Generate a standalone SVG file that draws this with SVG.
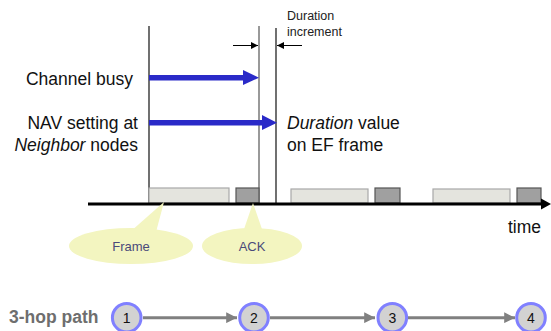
<svg xmlns="http://www.w3.org/2000/svg" width="551" height="331" viewBox="0 0 551 331">
  <defs>
    <style>
      .lbl { font-family: "Liberation Sans", Arial, sans-serif; font-size: 17.5px; fill: #111; }
      .small { font-family: "Liberation Sans", Arial, sans-serif; font-size: 12.5px; fill: #222; }
      .callout { fill: #f3f5c0; }
      .ctext { font-family: "Liberation Sans", Arial, sans-serif; font-size: 13px; fill: #4a4a7a; text-anchor: middle; }
      .frame { fill: #e4e4de; stroke: #a8a8a8; stroke-width: 1.2; }
      .ack { fill: #a0a0a0; stroke: #555; stroke-width: 1.2; }
      .node circle { fill: #d2d2d2; stroke: #8080ff; stroke-width: 3; }
      .node text { font-family: "Liberation Sans", Arial, sans-serif; font-size: 14px; fill: #111; text-anchor: middle; }
      .hop { stroke: #808080; stroke-width: 3; fill: none; marker-end: url(#grayHead); }
      .tick { stroke: #000; stroke-width: 1; marker-end: url(#smallHead); }
    </style>
    <marker id="grayHead" viewBox="0 0 10 10" refX="10" refY="5" markerWidth="3.6" markerHeight="3.6" markerUnits="strokeWidth" orient="auto">
      <path d="M0,0 L10,5 L0,10 Z" fill="#808080"/>
    </marker>
    <marker id="smallHead" viewBox="0 0 10 10" refX="10" refY="5" markerWidth="8" markerHeight="7" markerUnits="userSpaceOnUse" orient="auto">
      <path d="M0,0 L10,5 L0,10 Z" fill="#000"/>
    </marker>
  </defs>

  <rect width="551" height="331" fill="#fff"/>

  <!-- timing reference lines -->
  <line x1="149" y1="26" x2="149" y2="204" stroke="#111" stroke-width="1.2"/>
  <line x1="259" y1="26" x2="259" y2="204" stroke="#777" stroke-width="1.5"/>
  <line x1="276" y1="28" x2="276" y2="204" stroke="#111" stroke-width="1.2"/>

  <!-- duration increment marks -->
  <line class="tick" x1="233" y1="45.5" x2="258" y2="45.5"/>
  <line class="tick" x1="302" y1="45.5" x2="277" y2="45.5"/>
  <text class="small" x="287" y="20">Duration</text>
  <text class="small" x="287" y="36">increment</text>

  <!-- left labels -->
  <text class="lbl" x="133" y="85" text-anchor="end">Channel busy</text>
  <text class="lbl" x="138" y="129" text-anchor="end">NAV setting at</text>
  <text class="lbl" x="138" y="151" text-anchor="end"><tspan font-style="italic">Neighbor</tspan> nodes</text>

  <!-- right labels -->
  <text class="lbl" x="287" y="129"><tspan font-style="italic">Duration</tspan> value</text>
  <text class="lbl" x="287" y="151">on EF frame</text>

  <!-- blue interval arrows -->
  <path d="M149,75 L243,75 L243,70 L259,77.7 L243,85 L243,80.5 L149,80.5 Z" fill="#2a2ac8"/>
  <path d="M149,120 L262,120 L262,115 L277,122.7 L262,130 L262,125.5 L149,125.5 Z" fill="#2a2ac8"/>

  <!-- frames on the medium -->
  <rect class="frame" x="149" y="188" width="80" height="15"/>
  <rect class="ack" x="236" y="188" width="23" height="15"/>
  <rect class="frame" x="291" y="189" width="77" height="14"/>
  <rect class="ack" x="375" y="188" width="25" height="15"/>
  <rect class="frame" x="433" y="189" width="77" height="14"/>
  <rect class="ack" x="517" y="188" width="24" height="15"/>

  <!-- time axis -->
  <line x1="88" y1="204" x2="543" y2="204" stroke="#000" stroke-width="3"/>
  <path d="M541,198.5 L551,204 L541,209.5 Z" fill="#000"/>
  <text class="lbl" x="508" y="233">time</text>

  <!-- callouts -->
  <g id="frame-callout">
    <path class="callout" d="M130,232 L164,202 L156,232 Z"/>
    <ellipse class="callout" cx="131" cy="246" rx="62" ry="18"/>
    <text class="ctext" x="131" y="250.5">Frame</text>
  </g>
  <g id="ack-callout">
    <path class="callout" d="M243,232 L253,203 L263,232 Z"/>
    <ellipse class="callout" cx="252" cy="246" rx="50" ry="18"/>
    <text class="ctext" x="252" y="250.5">ACK</text>
  </g>

  <!-- 3-hop path -->
  <text x="9" y="323" font-family="'Liberation Sans', Arial, sans-serif" font-size="17.5" font-weight="bold" fill="#6e6e6e">3-hop path</text>

  <g id="connectors">
    <line class="hop" x1="143" y1="317.7" x2="237" y2="317.7"/>
    <line class="hop" x1="270" y1="317.7" x2="375" y2="317.7"/>
    <line class="hop" x1="408" y1="317.7" x2="515" y2="317.7"/>
  </g>

  <g id="node1" class="node"><circle cx="126.7" cy="317.7" r="14.3"/><text x="126.7" y="322.7">1</text></g>
  <g id="node2" class="node"><circle cx="254" cy="317.7" r="14.3"/><text x="254" y="322.7">2</text></g>
  <g id="node3" class="node"><circle cx="392.3" cy="317.7" r="14.3"/><text x="392.3" y="322.7">3</text></g>
  <g id="node4" class="node"><circle cx="531" cy="317.7" r="14.3"/><text x="531" y="322.7">4</text></g>
</svg>
